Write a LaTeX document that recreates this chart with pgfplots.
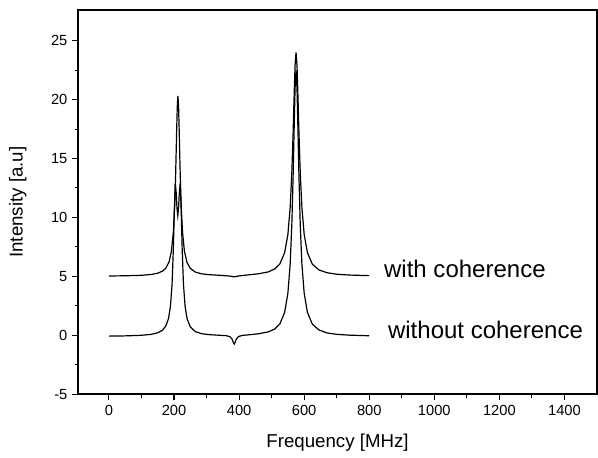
\documentclass[border=0pt]{standalone}
\usepackage{pgfplots}
\pgfplotsset{compat=1.18}
\usepackage{fontspec}
\setmainfont{Liberation Sans}
\begin{document}
\begin{tikzpicture}
\begin{axis}[
  scale only axis,
  width=389pt, height=288pt,
  xmin=-95, xmax=1500,
  ymin=-5, ymax=27.6,
  xtick={0,200,...,1400},
  ytick={-5,0,5,...,25},
  minor x tick num=1,
  minor y tick num=1,
  tick pos=left,
  tick align=outside,
  major tick length=4.5pt,
  minor tick length=2.5pt,
  every tick/.style={black, line width=0.8pt},
  axis line style={line width=1.3pt},
  tick label style={font=\fontsize{11}{13}\selectfont},
  /pgf/number format/assume math mode=true,
  /pgf/number format/1000 sep={},
  xlabel={Frequency [MHz]},
  ylabel={Intensity [a.u]},
  every axis x label/.style={at={(axis description cs:0.5,-0.125)}, anchor=center, font=\fontsize{14}{16}\selectfont},
  every axis y label/.style={at={(axis description cs:-0.116,0.5)}, anchor=center, rotate=90, font=\fontsize{14}{16}\selectfont},
  clip=false,
]
% with coherence
\addplot[black, line width=0.9pt] coordinates {
(0,5.03) (50,5.05) (100,5.09) (130,5.16) (150,5.27) (165,5.45) (175,5.70) (185,6.25)
(192,7.13) (198,8.79) (202,10.99) (205,13.68) (208,17.26) (210,19.42) (212,20.32)
(214,19.42) (216,17.26) (219,13.68) (222,10.99) (226,8.79) (232,7.13) (240,6.17)
(250,5.68) (265,5.37) (285,5.21) (310,5.14) (340,5.09) (370,5.03) (385,4.96)
(400,5.04) (430,5.13) (460,5.22) (490,5.38) (510,5.64) (525,6.04) (540,7.01)
(550,8.57) (557,10.86) (562,13.75) (566,17.17) (569,20.21) (572,22.89) (575,24.01)
(578,22.89) (581,20.21) (584,17.17) (588,13.75) (593,10.86) (600,8.57) (610,7.01)
(625,6.04) (645,5.55) (670,5.31) (700,5.18) (740,5.11) (800,5.06)
};
% without coherence
\addplot[black, line width=0.9pt] coordinates {
(0,-0.07) (50,-0.05) (100,0.00) (130,0.08) (150,0.21) (165,0.44) (175,0.80) (183,1.42)
(189,2.46) (194,4.34) (198,7.36) (201,10.66) (204,12.89) (207,12.00) (209,10.82)
(211.5,10.16) (214,10.82) (216,12.00) (219,12.89) (222,10.66) (225,7.36) (229,4.34)
(234,2.46) (240,1.42) (250,0.71) (265,0.32) (285,0.13) (310,0.05) (340,0.00)
(360,-0.03) (372,-0.12) (378,-0.31) (382,-0.59) (385,-0.74) (388,-0.58) (392,-0.30)
(398,-0.11) (410,-0.01) (430,0.04) (460,0.13) (490,0.29) (510,0.54) (525,0.95)
(540,1.94) (550,3.58) (557,6.05) (562,9.34) (566,13.45) (569,17.33) (572,20.94)
(575,22.51) (578,20.94) (581,17.33) (584,13.45) (588,9.34) (593,6.05) (600,3.58)
(610,1.94) (625,0.95) (645,0.46) (670,0.20) (700,0.08) (740,0.01) (800,-0.04)
};
\node[anchor=base west, inner sep=0pt, font=\fontsize{18}{20}\selectfont] at (axis cs:845,4.87) {with coherence};
\node[anchor=base west, inner sep=0pt, font=\fontsize{18}{20}\selectfont] at (axis cs:857,-0.26) {without coherence};
\coordinate (bl) at (rel axis cs:0,0);
\coordinate (tr) at (rel axis cs:1,1);
\end{axis}
\pgfresetboundingbox
\path ([xshift=-58.5pt,yshift=-47.25pt]bl) rectangle ([xshift=0.75pt,yshift=7.5pt]tr);
\end{tikzpicture}
\end{document}
